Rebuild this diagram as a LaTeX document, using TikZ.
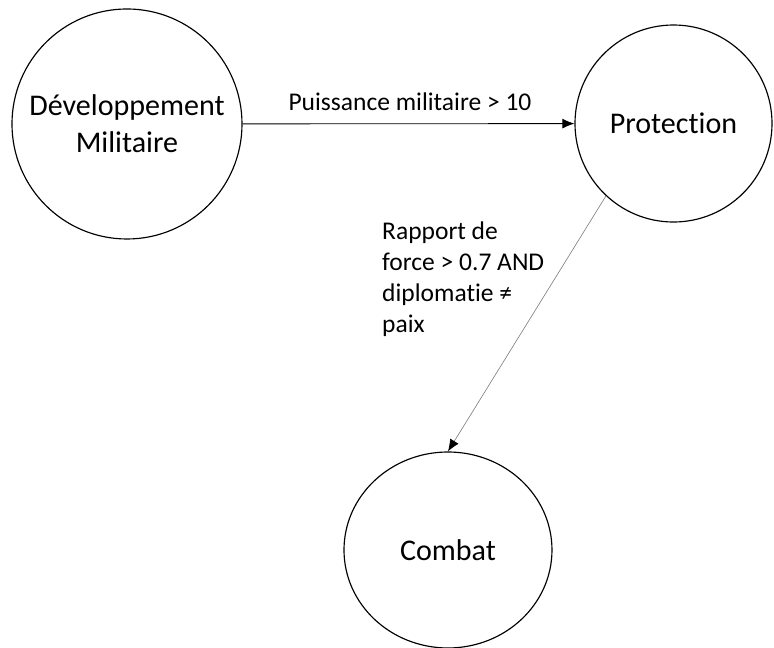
\documentclass[tikz,border=0pt]{standalone}
\usepackage{fontspec}
\setmainfont{Carlito}[Ligatures={NoCommon}]
\usetikzlibrary{arrows.meta,shapes.geometric}

\begin{document}
\begin{tikzpicture}
          \useasboundingbox (0,0) rectangle (25.8,-21.6);
          \tikzset{StateStyle/.style = {draw, line width=1.1pt, align=center, inner sep=0pt, font=\fontsize{28.5}{35.1}\selectfont}};
          \tikzset{EdgeStyle/.style = {line width=0.8pt, -{Latex[length=4mm,width=3.3mm]}}};
          \tikzset{LabelStyle/.style = {inner sep=0pt, font=\fontsize{24.2}{29.4}\selectfont}};

          % states
          \node[StateStyle, circle, minimum size=7.667cm] (dev) at (4.233,-4.133) {Développement\\Militaire};
          \node[StateStyle, circle, minimum size=6.567cm] (prot) at (22.45,-4.117) {Protection};
          \node[StateStyle, ellipse, minimum width=6.933cm, minimum height=6.533cm] (combat) at (14.933,-18.333) {Combat};

          % transitions
          \draw[EdgeStyle] (dev) -- (prot);
          \tikzset{EdgeStyle/.append style = {draw=gray, line width=0.6pt, -{Latex[length=4mm,width=3.3mm,color=black]}}};
          \draw[EdgeStyle] (prot.227) -- (combat.north);

          % conditions
          \node[LabelStyle, anchor=base] (cond1) at (13.667,-3.667) {Puissance militaire > 10};
          \node[LabelStyle, align=left, anchor=north west] (cond2) at (12.733,-7.4) {Rapport de\\force > 0.7 AND\\diplomatie ≠\\paix};
\end{tikzpicture}
\end{document}
